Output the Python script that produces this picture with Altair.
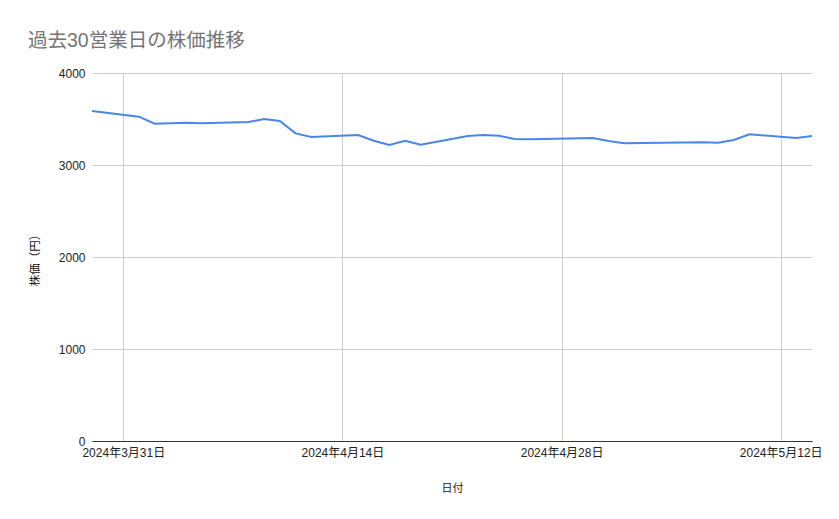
import altair as alt
import pandas as pd

dates = [
    "2024-03-29",
    "2024-04-01", "2024-04-02", "2024-04-03", "2024-04-04", "2024-04-05",
    "2024-04-08", "2024-04-09", "2024-04-10", "2024-04-11", "2024-04-12",
    "2024-04-15", "2024-04-16", "2024-04-17", "2024-04-18", "2024-04-19",
    "2024-04-22", "2024-04-23", "2024-04-24", "2024-04-25", "2024-04-26",
    "2024-04-30", "2024-05-01", "2024-05-02",
    "2024-05-07", "2024-05-08", "2024-05-09", "2024-05-10",
    "2024-05-13", "2024-05-14",
]
prices = [
    3587,
    3525, 3449, 3453, 3460, 3453,
    3467, 3500, 3478, 3344, 3304,
    3326, 3264, 3217, 3264, 3221,
    3315, 3326, 3318, 3283, 3279,
    3293, 3262, 3237,
    3247, 3242, 3272, 3333,
    3293, 3315,
]
tick_dates = [(2024, 3, 31), (2024, 4, 14), (2024, 4, 28), (2024, 5, 12)]
y_ticks = [0, 1000, 2000, 3000, 4000]

df = pd.DataFrame({"date": dates, "price": prices})

FONT = "Liberation Sans, Noto Sans CJK JP, sans-serif"

x = alt.X(
    "date:T",
    title="日付",
    scale=alt.Scale(
        type="utc",
        domain=[alt.DateTime(year=2024, month=3, date=29, utc=True),
                alt.DateTime(year=2024, month=5, date=14, utc=True)],
    ),
    axis=alt.Axis(
        values=[alt.DateTime(year=y, month=m, date=d, utc=True) for (y, m, d) in tick_dates],
        labelExpr="utcFormat(datum.value, '%Y年%-m月%-d日')",
        ticks=False,
        domain=True,
        domainColor="#333333",
        domainWidth=1,
        grid=True,
        gridColor="#cccccc",
        labelColor="#222222",
        labelFontSize=12,
        labelFont=FONT,
        labelPadding=6,
        labelFlush=False,
        titleFont=FONT,
        titleFontSize=11,
        titleFontWeight="normal",
        titleColor="#222222",
        titlePadding=24,
    ),
)

y = alt.Y(
    "price:Q",
    title="株価（円）",
    scale=alt.Scale(domain=[0, 4000], nice=False, zero=True),
    axis=alt.Axis(
        values=y_ticks,
        format="d",
        ticks=False,
        domain=False,
        grid=True,
        gridColor="#cccccc",
        labelColor="#222222",
        labelFontSize=12,
        labelFont=FONT,
        labelPadding=7,
        titleFont=FONT,
        titleFontSize=11.5,
        titleFontWeight="normal",
        titleColor="#111111",
        titlePadding=18,
    ),
)

chart = (
    alt.Chart(df)
    .mark_line(color="#4a86e8", strokeWidth=2)
    .encode(x=x, y=y)
    .properties(
        width=720,
        height=368,
        padding={"left": 84, "top": 65, "right": 19, "bottom": 70},
        autosize=alt.AutoSizeParams(type="none"),
        title=alt.Title(
            "過去30営業日の株価推移",
            anchor="start",
            frame="group",
            dx=-64,
            offset=16,
            fontSize=19.5,
            fontWeight="normal",
            color="#757575",
            font=FONT,
        ),
    )
    .configure_view(stroke=None)
)

chart.save("out.html", embed_options={"renderer": "svg", "actions": False})
